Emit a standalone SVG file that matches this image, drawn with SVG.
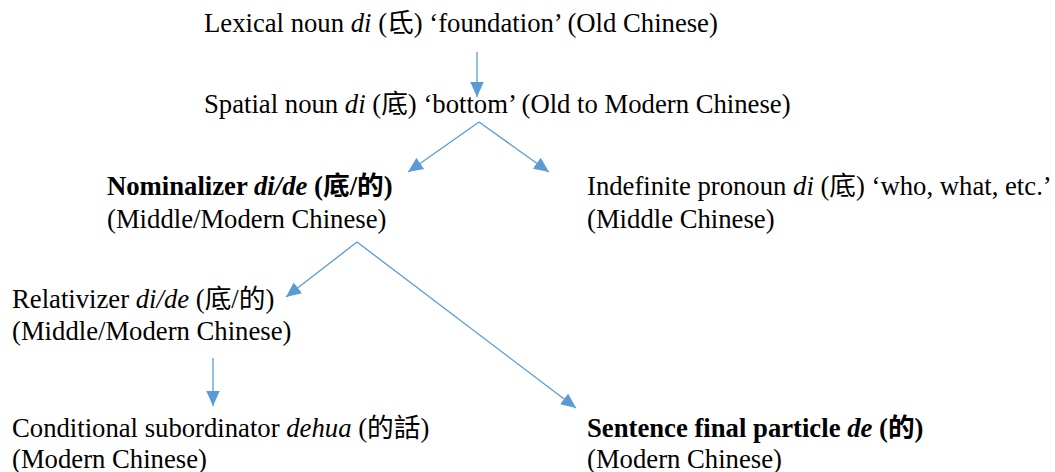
<svg xmlns="http://www.w3.org/2000/svg" width="1055" height="472" viewBox="0 0 1055 472">
<style>
text{font-family:"Liberation Serif","Noto Sans CJK TC",serif;font-size:26.7px;fill:#000}
.b{font-weight:bold}
.i{font-style:italic}
.c{stroke:#5B9BD5;stroke-width:1.3;fill:none}
</style>
<defs>
<marker id="ah" viewBox="0 0 10 10" refX="10" refY="5" markerWidth="15" markerHeight="15" markerUnits="userSpaceOnUse" orient="auto">
<path d="M0,0.5 L10,5 L0,9.5 z" fill="#5B9BD5"/>
</marker>
</defs>
<rect width="1055" height="472" fill="#fff"/>
<g id="n1"><text x="204" y="32">Lexical noun <tspan class="i">di</tspan> (氐) ‘foundation’ (Old Chinese)</text></g>
<g id="n2"><text x="204" y="113">Spatial noun <tspan class="i">di</tspan> (底) ‘bottom’ (Old to Modern Chinese)</text></g>
<g id="n3"><text x="107" y="195" class="b">Nominalizer <tspan class="i">di/de</tspan> (底/的)</text><text x="107" y="228">(Middle/Modern Chinese)</text></g>
<g id="n4"><text x="587" y="195">Indefinite pronoun <tspan class="i">di</tspan> (底) ‘who, what, etc.’</text><text x="587" y="228">(Middle Chinese)</text></g>
<g id="n5"><text x="12" y="308">Relativizer <tspan class="i">di/de</tspan> (底/的)</text><text x="12" y="340">(Middle/Modern Chinese)</text></g>
<g id="n6"><text x="12" y="437">Conditional subordinator <tspan class="i">dehua</tspan> (的話)</text><text x="12" y="468">(Modern Chinese)</text></g>
<g id="n7"><text x="587" y="437" class="b">Sentence final particle <tspan class="i">de</tspan> (的)</text><text x="587" y="468">(Modern Chinese)</text></g>
<g id="connectors">
<path class="c" d="M477,52 L477,97" marker-end="url(#ah)"/>
<path class="c" d="M479,122 L408,172" marker-end="url(#ah)"/>
<path class="c" d="M479,122 L549,172" marker-end="url(#ah)"/>
<path class="c" d="M357,242 L286,297" marker-end="url(#ah)"/>
<path class="c" d="M357,242 L576,408" marker-end="url(#ah)"/>
<path class="c" d="M213,358 L213,406" marker-end="url(#ah)"/>
</g>
</svg>
